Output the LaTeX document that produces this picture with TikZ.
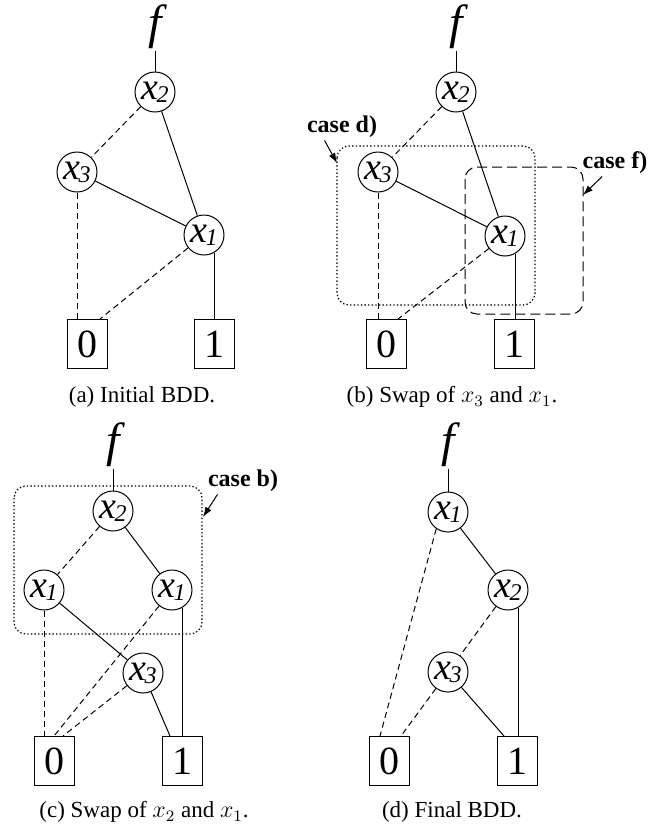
\documentclass[tikz,border=0pt]{standalone}
\usepackage{fontspec}
\setmainfont{Liberation Serif}
\usetikzlibrary{arrows.meta}

\newcommand{\xv}[1]{{\fontsize{19}{19}\selectfont\itshape x\kern-0.8pt\raisebox{-1.5pt}{\fontsize{12}{12}\selectfont #1}}}
\newcommand{\fv}{{\fontsize{24}{24}\selectfont\itshape f}}

\begin{document}
\begin{tikzpicture}[x=0.5pt, y=-0.5pt, line width=0.5pt,
    var/.style={circle, draw, minimum size=20pt, inner sep=0pt},
    term/.style={draw, minimum width=20pt, minimum height=24.5pt, inner sep=0pt, font=\fontsize{20}{20}\selectfont},
    fun/.style={inner sep=0.5pt},
    lo/.style={dash pattern=on 3pt off 2pt},
    hi/.style={},
    figcap/.style={font=\fontsize{11.5}{13}\selectfont},
    caselbl/.style={inner sep=1pt, font=\fontsize{12}{14}\selectfont\bfseries},
    dotbox/.style={line width=0.6pt, dash pattern=on 0.7pt off 1.1pt, rounded corners=6pt},
    dashbox/.style={dash pattern=on 5pt off 2.5pt, rounded corners=6pt},
    arr/.style={-{Latex[length=5pt, width=3.5pt]}}]
    \useasboundingbox (0,0) rectangle (662,831);

    % (a) 初期 BDD
    \node[fun] (fa) at (155, 27) {\fv};
    \node[var] (a2) at (155, 92) {\xv{2}};
    \node[var] (a3) at (77, 172) {\xv{3}};
    \node[var] (a1) at (204, 235) {\xv{1}};
    \node[term] (azero) at (87, 344) {0};
    \node[term] (aone) at (214, 344) {1};
    \draw (fa) -- (a2);
    \draw[lo] (a2) -- (a3);
    \draw[hi] (a2) -- (a1);
    \draw[hi] (a3) -- (a1);
    \draw[lo] (a3.south) -- (a3.south |- azero.north);
    \draw[lo] (a1) -- ([xshift=6.5pt]azero.north);
    \draw[hi] (a1.-60) -- (a1.-60 |- aone.north);
    \node[figcap] (capa) at (142, 397) {(a) Initial BDD.};

    % (b) x3 と x1 の交換
    \node[fun] (fb) at (456, 27) {\fv};
    \node[var] (b2) at (456, 92) {\xv{2}};
    \node[var] (b3) at (378, 172) {\xv{3}};
    \node[var] (b1) at (505, 236) {\xv{1}};
    \node[term] (bzero) at (386.5, 344) {0};
    \node[term] (bone) at (514, 344) {1};
    \draw (fb) -- (b2);
    \draw[lo] (b2) -- (b3);
    \draw[hi] (b2) -- (b1);
    \draw[hi] (b3) -- (b1);
    \draw[lo] (b3.south) -- (b3.south |- bzero.north);
    \draw[lo] (b1) -- ([xshift=5.75pt]bzero.north);
    \draw[hi] (b1.-60) -- (b1.-60 |- bone.north);
    \node[figcap] (capb) at (452, 397) {(b) Swap of $x_3$ and $x_1$.};

    % ケースの枠
    \draw[dotbox] (337, 146) rectangle (535, 305);
    \draw[dashbox] (465, 167) rectangle (583, 314);
    \node[caselbl] (dlbl) at (342, 127) {case d)};
    \node[caselbl] (flbl) at (615, 163) {case f)};
    \coordinate (dtip) at (337, 163);
    \coordinate (ftip) at (583, 195);
    \draw[arr] ([xshift=10pt]dlbl.south west) -- (dtip);
    \draw[arr] ([xshift=11pt]flbl.south west) -- (ftip);

    % (c) x2 と x1 の交換
    \node[fun] (fc) at (113, 445) {\fv};
    \node[var] (c2) at (113, 511) {\xv{2}};
    \node[var] (c1l) at (44, 590) {\xv{1}};
    \node[var] (c1r) at (172, 590) {\xv{1}};
    \node[var] (c3) at (143, 673) {\xv{3}};
    \node[term] (czero) at (54, 761) {0};
    \node[term] (cone) at (182, 761) {1};
    \draw (fc) -- (c2);
    \draw[lo] (c2) -- (c1l);
    \draw[hi] (c2) -- (c1r);
    \draw[lo] (c1l.south) -- (c1l.south |- czero.north);
    \draw[hi] (c1l) -- (c3);
    \draw[lo] (c1r) -- (czero.north);
    \draw[hi] (c1r.-60) -- (c1r.-60 |- cone.north);
    \draw[lo] (c3) -- ([xshift=4.5pt]czero.north);
    \draw[hi] (c3) -- ([xshift=-6pt]cone.north);
    \node[figcap] (capc) at (144, 812) {(c) Swap of $x_2$ and $x_1$.};

    \draw[dotbox] (14, 486) rectangle (202, 634);
    \node[caselbl] (blbl) at (243, 481) {case b)};
    \coordinate (btip) at (203, 517);
    \draw[arr] ([xshift=6pt]blbl.south west) -- (btip);

    % (d) 最終 BDD
    \node[fun] (fd) at (448, 445) {\fv};
    \node[var] (d1) at (448, 512) {\xv{1}};
    \node[var] (d2) at (508, 590) {\xv{2}};
    \node[var] (d3) at (448, 672) {\xv{3}};
    \node[term] (dzero) at (389.5, 761) {0};
    \node[term] (done) at (517.5, 761) {1};
    \draw (fd) -- (d1);
    \draw[lo] (d1.-125) -- ([xshift=-4.75pt]dzero.north);
    \draw[hi] (d1) -- (d2);
    \draw[lo] (d2) -- (d3);
    \draw[hi] (d2.-60) -- (d2.-60 |- done.north);
    \draw[lo] (d3) -- ([xshift=5.75pt]dzero.north);
    \draw[hi] (d3) -- ([xshift=-6.75pt]done.north);
    \node[figcap] (capd) at (452, 812) {(d) Final BDD.};
\end{tikzpicture}
\end{document}
